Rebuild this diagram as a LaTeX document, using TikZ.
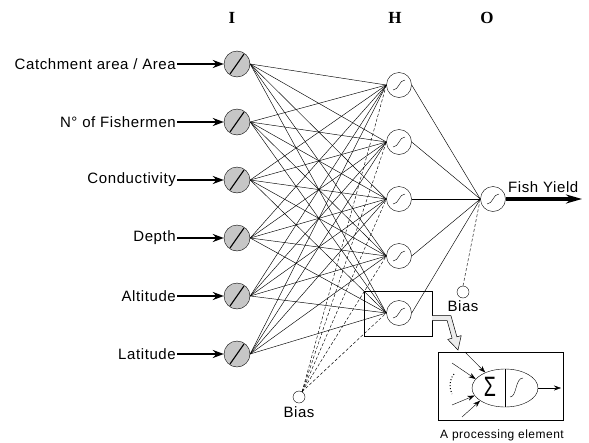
\documentclass[tikz,border=0pt]{standalone}
\usepackage{fontspec}
\setmainfont{Liberation Sans}[LetterSpace=4]
\newfontfamily\layerfont{Liberation Serif}
\usetikzlibrary{arrows.meta,shapes.geometric,positioning}
\begin{document}
\begin{tikzpicture}[x=1pt,y=-1pt,>=Stealth,
	inp/.style={circle,draw,fill=gray!45,minimum size=26pt,inner sep=0pt},
	hid/.style={circle,draw,fill=white,minimum size=25pt,inner sep=0pt},
	bias/.style={circle,draw,fill=white,minimum size=12pt,inner sep=0pt},
	lbl/.style={font=\fontsize{15}{17}\selectfont,inner sep=1pt},
	feed/.style={line width=2.4pt,-{Stealth[length=11pt,width=8pt]}},
	wire/.style={line width=0.45pt},
	bwire/.style={line width=0.45pt,dash pattern=on 3pt off 2pt},
	small/.style={-{Stealth[length=7pt,width=5pt]}}]
	\useasboundingbox (0,0) rectangle (589,442);
	% layer letters
	\foreach \t/\x in {I/232,H/395,O/487}
	\node[font=\layerfont\bfseries\fontsize{17}{17}\selectfont] (l\t) at (\x,18) {\t};
	% input layer
	\foreach \t [count=\i] in {Catchment area / Area,N° of Fishermen,Conductivity,Depth,Altitude,Latitude}{
		\node[inp] (i\i) at (237,{6+58*\i}) {};
		\node[lbl,anchor=east] (t\i) at (177,{6+58*\i}) {\t};
		\draw[feed] (t\i.east) -- (i\i.west);
		\draw[line width=1.1pt,shorten <=1pt,shorten >=1pt] (i\i.235) -- (i\i.55);
	}
	% hidden and output layer
	\foreach \j in {1,...,5}
	\node[hid] (h\j) at (399,{28+57*\j}) {};
	\node[hid] (o) at (493,199) {};
	\node[bias] (b1) at (299,397) {};
	\node[bias] (b2) at (463,292) {};
	\node[lbl,below=2pt of b1] (bl1) {Bias};
	\node[lbl,below=1pt of b2] (bl2) {Bias};
	% weights
	\foreach \i in {1,...,6}
	\foreach \j in {1,...,5}
	\draw[wire] (i\i.east) -- (h\j.west);
	\foreach \j in {1,...,5}{
		\draw[wire] (h\j.east) -- (o.west);
		\draw[bwire] (b1.60) -- (h\j.west);
	}
	\draw[bwire] (b2.north) -- (o.west);
	% sigmoids
	\foreach \n in {h1,h2,h3,h4,h5,o}
	\draw ([shift={(-6,5)}]\n.center) .. controls +(6,0) and +(-6,0) .. ([shift={(6,-5)}]\n.center);
	% output
	\coordinate (fy) at (582,199);
	\draw[line width=3.2pt,-{Stealth[length=16pt,width=9pt]}] (o.east) -- (fy);
	\node[lbl,anchor=base west] (fyl) at (507,192) {Fish Yield};
	% zoom on one element
	\draw (364,291) rectangle (432,336);
	\draw[fill=gray!15,line width=0.5pt] (432,315.5) -- (450.9,315.5) -- (456.9,336.8) -- (461.2,335.6)
	-- (458,350) -- (447.8,339.4) -- (452.1,338.2) -- (447.1,320.5) -- (432,320.5);
	\draw (438,352) rectangle (563,420);
	\node[draw,ellipse,minimum width=66pt,minimum height=38pt,inner sep=0pt] (pe) at (505,388) {};
	\draw (pe.north) -- (pe.south);
	\node (sum) at (490,387) {\fontsize{28}{28}\selectfont\scalebox{0.7}[1]{Σ}};
	\draw (510,397) .. controls (517,397) and (515,378) .. (523,378);
	\coordinate (peout) at (561,388);
	\draw[small] (pe.east) -- (peout);
	\foreach \x/\y/\a [count=\k] in {465/352/142,452/363/163,452/405/194,462/417/207}{
		\coordinate (s\k) at (\x,\y);
		\draw[small] (s\k) -- (pe.\a);
	}
	\draw[dotted,line width=1pt] (454,374) .. controls (449,380) and (449,388) .. (452,394);
	\node[font=\fontsize{12}{14}\selectfont] (pel) at (502,435) {A processing element};
\end{tikzpicture}
\end{document}
